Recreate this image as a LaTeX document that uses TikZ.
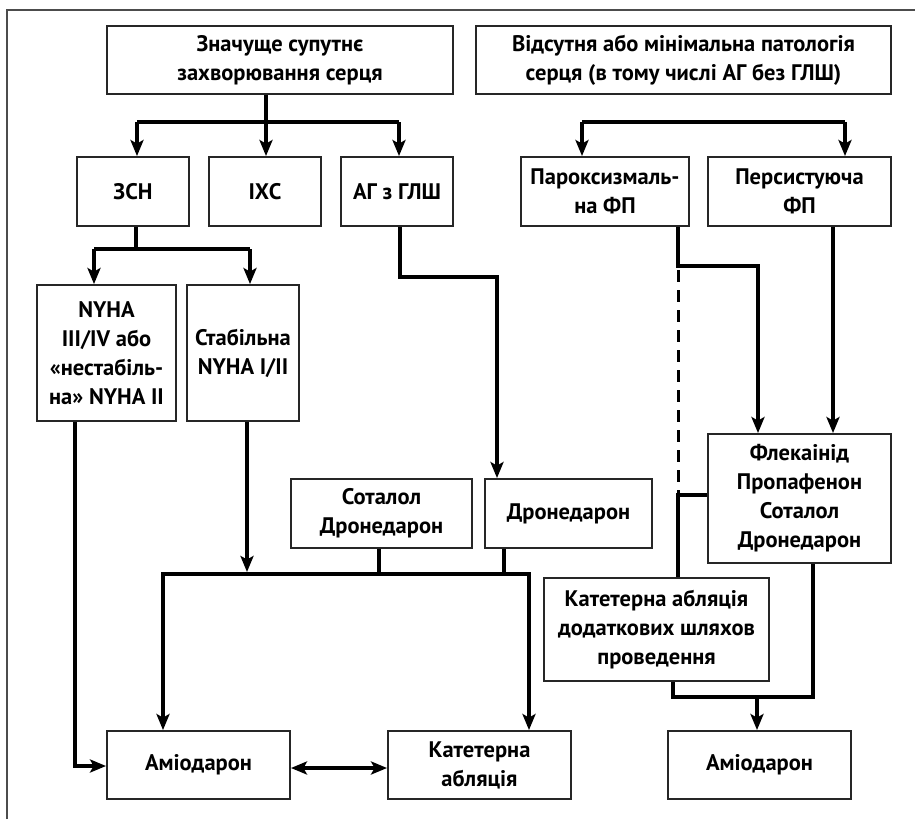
\documentclass[tikz,border=0pt]{standalone}
\usepackage{fontspec}
\setmainfont{PT Sans}
\usetikzlibrary{arrows.meta}
\begin{document}
\begin{tikzpicture}[x=1pt,y=-1pt,
  box/.style={draw=black!85,line width=1.9pt,align=center,inner sep=0pt,
    font=\fontsize{22.5}{29}\selectfont\bfseries},
  conn/.style={line width=3.2pt,black},
  arr/.style={conn,-{Stealth[length=16pt,width=13pt,inset=3.5pt]}},
  darr/.style={conn,{Stealth[length=16pt,width=13pt,inset=3.5pt]}-{Stealth[length=16pt,width=13pt,inset=3.5pt]}}]
\useasboundingbox (0,0) rectangle (915,819);
% outer frame
\draw[black!70,line width=1.9pt] (7,819) -- (7,10) -- (915,10);

% boxes
\node[box,minimum width=346pt,minimum height=68pt] (top1) at (280,60) {Значуще супутнє\\захворювання серця};
\node[box,minimum width=415pt,minimum height=68pt] (top2) at (683.5,60) {Відсутня або мінімальна патологія\\серця (в тому числі АГ без ГЛШ)};
\node[box,minimum width=112pt,minimum height=69pt] (zsn) at (133,191.5) {ЗСН};
\node[box,minimum width=112pt,minimum height=69pt] (ihs) at (265,191.5) {ІХС};
\node[box,minimum width=112pt,minimum height=69pt] (ag) at (397,191.5) {АГ з ГЛШ};
\node[box,minimum width=168pt,minimum height=69pt] (par) at (605,191.5) {Пароксизмаль-\\на ФП};
\node[box,minimum width=183pt,minimum height=69pt] (pers) at (799.5,191.5) {Персистуюча\\ФП};
\node[box,minimum width=139pt,minimum height=136pt] (nyha) at (106.5,353) {NYHA\\III/IV або\\«нестабіль-\\на» NYHA II};
\node[box,minimum width=112pt,minimum height=136pt] (stab) at (243,353) {Стабільна\\NYHA I/II};
\node[box,minimum width=181pt,minimum height=69pt] (sotdr) at (381.5,513.5) {Соталол\\Дронедарон};
\node[box,minimum width=167pt,minimum height=69pt] (dron) at (568.5,513.5) {Дронедарон};
\node[box,minimum width=183pt,minimum height=129pt] (flek) at (799.5,498.5) {Флекаінід\\Пропафенон\\Соталол\\Дронедарон};
\node[box,minimum width=225pt,minimum height=103pt] (cath2) at (656.5,629.5) {Катетерна абляція\\додаткових шляхов\\проведення};
\node[box,minimum width=183pt,minimum height=68pt] (amio1) at (198.5,765) {Аміодарон};
\node[box,minimum width=183pt,minimum height=68pt] (cath1) at (479.5,765) {Катетерна\\абляція};
\node[box,minimum width=183pt,minimum height=68pt] (amio2) at (759.5,765) {Аміодарон};

% junction points
\coordinate (j1) at (266,122);
\coordinate (j2) at (136,249);
\coordinate (j3) at (400,277);
\coordinate (j4) at (497,277);
\coordinate (j5) at (678,266);
\coordinate (j6) at (758,266);
\coordinate (j7) at (678,495);
\coordinate (bus) at (163,574);
\coordinate (j8) at (673,697);
\coordinate (j9) at (813,697);
\coordinate (j10) at (757,697);
\coordinate (j11) at (75,766);

% left tree
\draw[conn] (top1.south -| j1) -- (j1);
\draw[conn] (137,122) -- (399,122);
\draw[arr] (137,122) -- (zsn.north -| 137,0);
\draw[arr] (j1) -- (ihs.north -| j1);
\draw[arr] (399,122) -- (ag.north -| 399,0);

\draw[conn] (zsn.south -| j2) -- (j2);
\draw[conn] (94,249) -- (250,249);
\draw[arr] (94,249) -- (nyha.north -| 94,0);
\draw[arr] (250,249) -- (stab.north -| 250,0);

\draw[arr] (ag.south -| j3) -- (j3) -- (j4) -- (dron.north -| j4);

% drugs bus
\draw[arr] (stab.south -| 247,0) -- (247,572);
\draw[conn] (sotdr.south -| 379,0) -- (379,574);
\draw[conn] (dron.south -| 504,0) -- (504,574);
\draw[arr] (529,574) -- (bus) -- (amio1.north -| bus);
\draw[arr] (504,574) -- (529,574) -- (cath1.north -| 529,0);
\draw[arr] (nyha.south -| j11) -- (j11) -- (amio1.west |- j11);
\draw[darr] (amio1.east |- 0,768) -- (cath1.west |- 0,768);

% right tree
\draw[conn] (582,122) -- (845,122);
\draw[arr] (582,122) -- (par.north -| 582,0);
\draw[arr] (845,122) -- (pers.north -| 845,0);
\draw[arr] (par.south -| j5) -- (j5) -- (j6) -- (flek.north -| j6);
\draw[arr] (pers.south -| 833,0) -- (flek.north -| 833,0);
\draw[conn,dash pattern=on 12pt off 8pt,dash phase=-4pt,line width=3pt] (j5) -- (j7);
\draw[conn] (flek.west |- j7) -- (j7) -- (cath2.north -| j7);
\draw[conn] (cath2.south -| j8) -- (j8) -- (j9) -- (flek.south -| j9);
\draw[arr] (j10) -- (amio2.north -| j10);
\end{tikzpicture}
\end{document}
